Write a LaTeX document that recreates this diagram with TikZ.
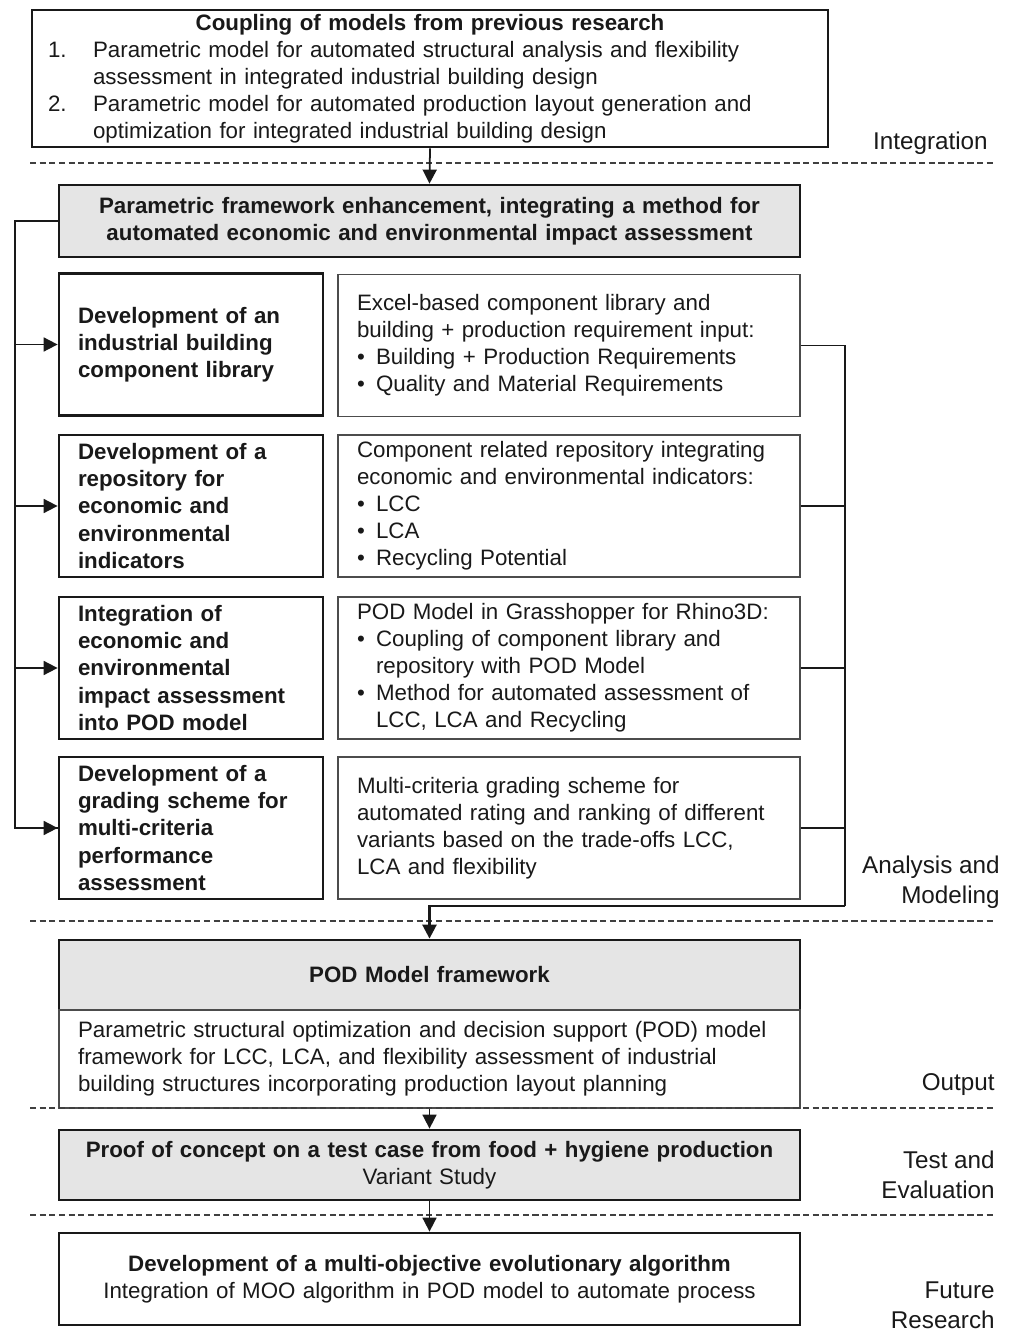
\documentclass[tikz,border=0pt]{standalone}
\usepackage{fontspec}
\setmainfont{Liberation Sans}
\usetikzlibrary{arrows.meta}

\newcommand{\itemmark}{\makebox[0.38cm][l]{\textbullet}}
\newcommand{\itemgap}{\hspace*{0.38cm}}

\begin{document}
\begin{tikzpicture}[x=0.02cm, y=-0.02cm,
	base/.style={inner ysep=0pt, inner xsep=0.38cm, text=black!90, font=\fontsize{12.7}{15.4}\selectfont},
	heavy/.style={base, draw=black!90, line width=1.6pt},
	light/.style={base, draw=black!70, line width=0.7pt},
	shade/.style={heavy, fill=black!10},
	wide/.style={minimum width=14.82cm, text width=14.06cm, align=center},
	leftcol/.style={heavy, minimum width=5.28cm, text width=4.52cm, minimum height=2.84cm, align=left, font=\fontsize{12.7}{15.4}\selectfont\bfseries},
	rightcol/.style={light, minimum width=9.24cm, text width=8.48cm, minimum height=2.84cm, align=left},
	phase/.style={anchor=east, align=right, inner sep=0pt, text=black!90, font=\fontsize{13.8}{17}\selectfont},
	sepline/.style={black!75, line width=0.6pt, dash pattern=on 3.5pt off 2pt},
	bus/.style={black!90, line width=1pt},
	arr/.style={-{Triangle[length=0.28cm, width=0.28cm]}}]
	\useasboundingbox (0,0) rectangle (1019,1337);

	% previous research
	\node[heavy, inner xsep=0.32cm, minimum width=15.92cm, text width=15.28cm, minimum height=2.74cm, align=left] (coupling) at (430,78.5)
		{\makebox[15.28cm]{\bfseries Coupling of models from previous research}\\
		\makebox[0.9cm][l]{1.}Parametric model for automated structural analysis and flexibility\\
		\hspace*{0.9cm}assessment in integrated industrial building design\\
		\makebox[0.9cm][l]{2.}Parametric model for automated production layout generation and\\
		\hspace*{0.9cm}optimization for integrated industrial building design};

	\node[shade, wide, minimum height=1.44cm, font=\fontsize{12.7}{15.4}\selectfont\bfseries] (frame) at (429.5,221)
		{Parametric framework enhancement, integrating a method for\\automated economic and environmental impact assessment};

	% analysis and modeling
	\node[leftcol] (libL) at (191,344.5) {Development of an\\industrial building\\component library};
	\node[leftcol] (repoL) at (191,506) {Development of a\\repository for\\economic and\\environmental\\indicators};
	\node[leftcol] (integL) at (191,668) {Integration of\\economic and\\environmental\\impact assessment\\into POD model};
	\node[leftcol] (gradeL) at (191,828) {Development of a\\grading scheme for\\multi-criteria\\performance\\assessment};

	\node[rightcol] (libR) at (569,345.5) {Excel-based component library and\\building + production requirement input:\\\itemmark Building + Production Requirements\\\itemmark Quality and Material Requirements};
	\node[rightcol] (repoR) at (569,506) {Component related repository integrating\\economic and environmental indicators:\\\itemmark LCC\\\itemmark LCA\\\itemmark Recycling Potential};
	\node[rightcol] (integR) at (569,668) {POD Model in Grasshopper for Rhino3D:\\\itemmark Coupling of component library and\\\itemgap repository with POD Model\\\itemmark Method for automated assessment of\\\itemgap LCC, LCA and Recycling};
	\node[rightcol] (gradeR) at (569,828) {Multi-criteria grading scheme for\\automated rating and ranking of different\\variants based on the trade-offs LCC,\\LCA and flexibility};

	% output
	\node[shade, wide, minimum height=1.4cm, font=\fontsize{12.7}{15.4}\selectfont\bfseries] (pod) at (429.5,975) {POD Model framework};
	\node[light, minimum width=14.82cm, text width=14.06cm, minimum height=1.96cm, align=left] (podtext) at (429.5,1059)
		{Parametric structural optimization and decision support (POD) model\\framework for LCC, LCA, and flexibility assessment of industrial\\building structures incorporating production layout planning};

	\node[shade, wide, minimum height=1.4cm] (proof) at (429.5,1165)
		{{\bfseries Proof of concept on a test case from food + hygiene production}\\Variant Study};
	\node[heavy, wide, minimum height=1.84cm] (moo) at (429.5,1279)
		{{\bfseries Development of a multi-objective evolutionary algorithm}\\Integration of MOO algorithm in POD model to automate process};

	% phases
	\node[phase] (integration) at (988,143) {Integration};
	\node[phase] (analysis) at (1000,882) {Analysis and\\Modeling};
	\node[phase] (output) at (995,1085) {Output};
	\node[phase] (test) at (995,1175) {Test and\\Evaluation};
	\node[phase] (future) at (995,1305) {Future\\Research};

	\draw[sepline] (30,163) -- (995,163);
	\draw[sepline] (30,921) -- (995,921);
	\draw[sepline] (30,1108) -- (995,1108);
	\draw[sepline] (30,1215) -- (995,1215);

	% connectors
	\coordinate (busL) at (15,221);
	\coordinate (busR) at (845,906);
	\draw[bus, arr] (coupling.south) -- (frame.north);
	\draw[bus] (frame.west) -- (busL) |- (gradeL.west);
	\draw[bus, arr] (busL) |- (libL.west);
	\draw[bus, arr] (busL) |- (repoL.west);
	\draw[bus, arr] (busL) |- (integL.west);
	\draw[bus, arr] (busL) |- (gradeL.west);
	\draw[bus] (libR.east) -| (busR);
	\draw[bus] (repoR.east) -| (busR);
	\draw[bus] (integR.east) -| (busR);
	\draw[bus] (gradeR.east) -| (busR);
	\draw[bus, line width=1.5pt, arr] (busR) -| (pod.north);
	\draw[bus, arr] (podtext.south) -- (proof.north);
	\draw[bus, arr] (proof.south) -- (moo.north);
\end{tikzpicture}
\end{document}
